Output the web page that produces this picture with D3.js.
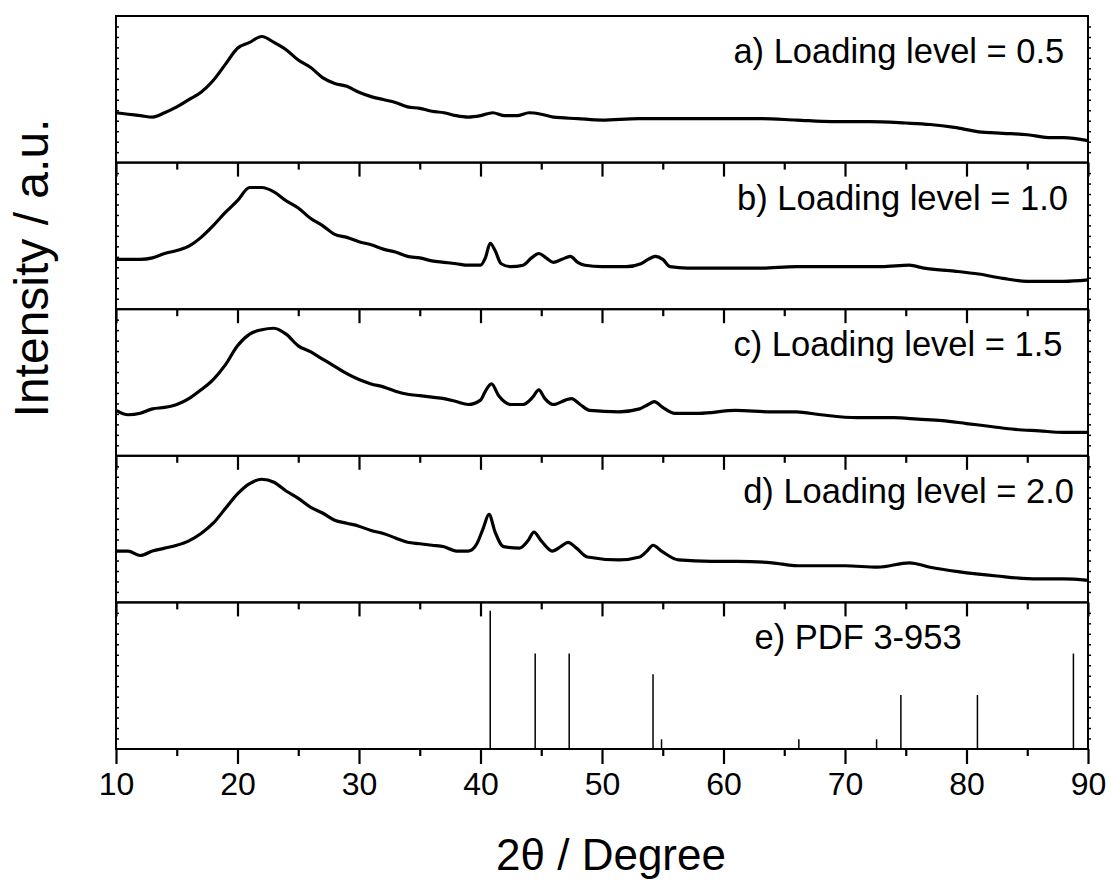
<!DOCTYPE html>
<html>
<head>
<meta charset="utf-8">
<script src="https://cdn.jsdelivr.net/npm/d3@7/dist/d3.min.js"></script>
<style>
  body { margin: 0; background: #fff; }
  svg text { font-family: "Liberation Sans", Arial, Helvetica, sans-serif; fill: #000; }
</style>
</head>
<body>
<svg id="area" width="1111" height="881"></svg>
<script>
// [2theta, intensity a.u.] (each panel on its own 0-100 scale)
const scanA = [[10, 34], [11, 33], [12, 32], [13, 31], [14, 34], [15, 38], [16, 43], [17, 48], [18, 56], [19, 67],
  [20, 78], [21, 82], [22, 86], [23, 82], [24, 77], [25, 70], [26, 65], [27, 58], [28, 54], [29, 52],
  [30, 48], [31, 45], [32, 43], [33, 41], [34, 38], [35, 37], [36, 35], [37, 34], [38, 32], [39, 31],
  [40, 32], [41, 34], [42, 32], [43, 32], [44, 34], [45, 33], [46, 31], [48, 30], [50, 29], [53, 30],
  [56, 30], [60, 30], [63, 30], [66, 29], [69, 28], [72, 28], [75, 27], [77, 26], [79, 24], [81, 21],
  [83, 20], [85, 19], [87, 17], [88, 17], [90, 15]];

const scanB = [[10, 34], [11, 34], [12, 34], [13, 35], [14, 38], [15, 40], [16, 43], [17, 49], [18, 57], [19, 66],
  [20, 74], [21, 83], [22, 83], [23, 80], [24, 74], [25, 69], [26, 62], [27, 57], [28, 51], [29, 49],
  [30, 46], [31, 44], [32, 41], [33, 39], [34, 36], [35, 35], [36, 33], [37, 32], [38, 31], [39, 30],
  [40, 30], [40.4, 35], [40.8, 45], [41.2, 40], [41.7, 31], [42.5, 29], [43.5, 30], [44.2, 35], [44.8, 38],
  [45.4, 35], [46, 32], [46.7, 34], [47.4, 36], [48, 32], [48.6, 30], [50, 29], [52, 29], [53.2, 31],
  [53.8, 34], [54.4, 36], [55, 34], [55.6, 29], [57, 28], [60, 28], [63, 28], [66, 29], [70, 29], [73, 29],
  [75.3, 30], [76.5, 28], [79, 26], [81, 24], [83, 21], [85, 19], [87, 19], [88, 19], [90, 20]];

const scanC = [[10, 31], [11, 28], [12, 29], [13, 32], [14, 33], [15, 35], [16, 39], [17, 45], [18, 52], [19, 62],
  [20, 75], [21, 83], [22, 86], [23, 87], [24, 83], [25, 75], [26, 71], [27, 66], [28, 61], [29, 56],
  [30, 52], [31, 49], [32, 47], [33, 44], [34, 42], [35, 41], [36, 40], [37, 39], [38, 37], [39, 35],
  [40, 38], [40.4, 44], [40.9, 49], [41.5, 41], [42.5, 35], [43.5, 35], [44.3, 40], [44.8, 45], [45.3, 39],
  [46, 35], [47, 38], [47.5, 39], [48.2, 35], [49, 31], [51.4, 30], [53.1, 32], [53.8, 35], [54.3, 37],
  [55, 33], [56, 29], [58, 29], [61, 31], [64, 30], [66, 30], [68, 28], [71, 26], [74, 26], [76, 25],
  [78, 24], [80, 22], [82, 20], [84, 18], [86, 17], [88, 16], [90, 16]];

const scanD = [[10, 35], [11, 35], [12, 32], [13, 35], [14, 37], [15, 39], [16, 42], [17, 47], [18, 54], [19, 64],
  [20, 74], [21, 81], [22, 84], [23, 82], [24, 76], [25, 71], [26, 65], [27, 61], [28, 56], [29, 54],
  [30, 52], [31, 49], [32, 47], [33, 44], [34, 41], [35, 40], [36, 39], [37, 38], [38, 35], [39, 35],
  [39.7, 40], [40.2, 50], [40.7, 60], [41.2, 48], [41.9, 38], [43.2, 37], [43.9, 42], [44.4, 48], [45, 42],
  [45.9, 35], [46.6, 38], [47.2, 41], [47.9, 37], [48.8, 31], [51.4, 29], [53.1, 31], [53.7, 35], [54.2, 39],
  [54.9, 35], [56.3, 29], [59, 28], [61.2, 28], [64, 27], [66.1, 25], [70, 25], [72.7, 24], [75.3, 27],
  [77, 24], [79.3, 21], [82.5, 18], [85.8, 16], [88, 16], [90, 15]];

// reference pattern PDF 3-953
const pdfAngle = [40.8, 44.5, 47.3, 54.2, 54.9, 66.2, 72.6, 74.6, 80.9, 88.8];
const pdfIntensity = [100, 69, 69, 54, 7, 7, 7, 39, 39, 69];

const panelLabels = ['a) Loading level = 0.5', 'b) Loading level = 1.0', 'c) Loading level = 1.5',
  'd) Loading level = 2.0', 'e) PDF 3-953'];
const xMajor = [10, 20, 30, 40, 50, 60, 70, 80, 90];
const xMinor = [15, 25, 35, 45, 55, 65, 75, 85];

const svg = d3.select('#area');
const plot = { left: 116, right: 1088, top: 16, bottom: 749 };
const panelH = (plot.bottom - plot.top) / 5;
// where each panel label ends, in degrees
const labelEnd = [88.05, 88.35, 87.9, 88.85, 79.6];

const x = d3.scaleLinear().domain([10, 90]).range([plot.left, plot.right]);

const scans = [scanA, scanB, scanC, scanD];

for (let i = 0; i < 5; i += 1) {
  const top = plot.top + i * panelH;
  const bottom = top + panelH;
  const y = d3.scaleLinear().domain(i < 4 ? [0, 100] : [0, 106]).range([bottom, top]);
  const g = svg.append('g');

  if (i < 4) {
    const line = d3.line()
      .x((d) => x(d[0]))
      .y((d) => y(d[1]))
      .curve(d3.curveMonotoneX);
    g.append('path')
      .datum(scans[i])
      .attr('d', line)
      .attr('fill', 'none')
      .attr('stroke', '#000')
      .attr('stroke-width', 3.2)
      .attr('stroke-linejoin', 'round');
  } else {
    g.selectAll('line.stick')
      .data(pdfAngle)
      .join('line')
      .attr('class', 'stick')
      .attr('x1', (d) => x(d))
      .attr('x2', (d) => x(d))
      .attr('y1', y(0))
      .attr('y2', (d, j) => y(pdfIntensity[j]))
      .attr('stroke', '#000')
      .attr('stroke-width', 1.5);
  }

  // small y ticks, left and right
  const yTicks = d3.range(1, 14).map((k) => (k * y.domain()[1]) / 14);
  [plot.left, plot.right].forEach((px) => {
    g.append('g')
      .attr('transform', `translate(${px},0)`)
      .call(d3.axisRight(y).tickValues(yTicks).tickSize(3).tickFormat(''))
      .call((a) => a.select('.domain').remove())
      .selectAll('line').attr('stroke-width', 1.5);
  });

  // x ticks pointing down from each panel's bottom edge
  const last = i === 4;
  g.append('g')
    .attr('transform', `translate(0,${bottom})`)
    .call(d3.axisBottom(x).tickValues(xMinor).tickSize(7).tickFormat(''))
    .call((a) => a.select('.domain').remove())
    .selectAll('line').attr('stroke-width', 2.2);
  const major = g.append('g')
    .attr('transform', `translate(0,${bottom})`)
    .call(d3.axisBottom(x).tickValues(xMajor).tickSize(last ? 15 : 14)
      .tickPadding(8).tickFormat(last ? d3.format('d') : ''))
    .call((a) => a.select('.domain').remove());
  major.selectAll('line').attr('stroke-width', 2.2);
  major.selectAll('text').style('font-size', '32px');

  // frame
  g.append('rect')
    .attr('x', plot.left)
    .attr('y', top)
    .attr('width', plot.right - plot.left)
    .attr('height', panelH)
    .attr('fill', 'none')
    .attr('stroke', '#000')
    .attr('stroke-width', 2);

  g.append('text')
    .attr('x', x(labelEnd[i]))
    .attr('y', top + 47)
    .attr('text-anchor', 'end')
    .style('font-size', '34.5px')
    .text(panelLabels[i]);
}

svg.append('text')
  .attr('x', 611)
  .attr('y', 870)
  .attr('text-anchor', 'middle')
  .style('font-size', '44px')
  .text('2θ / Degree');

svg.append('text')
  .attr('transform', 'translate(48,268) rotate(-90)')
  .attr('text-anchor', 'middle')
  .style('font-size', '48px')
  .text('Intensity / a.u.');
</script>
</body>
</html>
